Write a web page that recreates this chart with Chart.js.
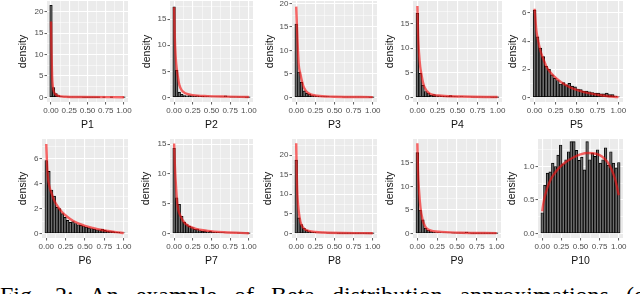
<!DOCTYPE html>
<html>
<head>
<meta charset="utf-8">
<script src="https://cdn.jsdelivr.net/npm/chart.js@4.4.1/dist/chart.umd.min.js"></script>
<style>
  html, body { margin: 0; padding: 0; background: #fff; overflow: hidden; }
  #wrap { position: relative; width: 640px; height: 294px; overflow: hidden; }
  #wrap canvas { position: absolute; }
  #caption {
    position: absolute; left: 0; top: 282px; width: 800px; white-space: nowrap;
    font-family: "Liberation Serif", "Times New Roman", serif; font-size: 24px;
    word-spacing: 11px; color: #000;
  }
</style>
</head>
<body>
<div id="wrap">
  <div id="caption">Fig. 2: An example of Beta distribution approximations (each</div>
</div>
<script>
// histogram bins (centres), shared by all panels
const binCenters = [0, 0.0345, 0.069, 0.1034, 0.1379, 0.1724, 0.2069, 0.2414, 0.2759, 0.3103,
  0.3448, 0.3793, 0.4138, 0.4483, 0.4828, 0.5172, 0.5517, 0.5862, 0.6207, 0.6552,
  0.6897, 0.7241, 0.7586, 0.7931, 0.8276, 0.8621, 0.8966, 0.931, 0.9655, 1];

const panelNames = ['P1', 'P2', 'P3', 'P4', 'P5', 'P6', 'P7', 'P8', 'P9', 'P10'];

// histogram densities
const histP1 = [21.5, 2.3, 0.9, 0.4, 0.2, 0.15, 0.1, 0.08, 0.05, 0.05, 0.04, 0.03, 0.03, 0.02, 0.02,
  0.02, 0.01, 0.01, 0.01, 0.01, 0, 0.01, 0, 0, 0.01, 0, 0, 0, 0, 0.01];
const histP2 = [17.4, 5.2, 1.0, 0.6, 0.35, 0.3, 0.35, 0.3, 0.25, 0.3, 0.2, 0.2, 0.15, 0.15, 0.1,
  0.1, 0.1, 0.08, 0.1, 0.12, 0.3, 0.1, 0.05, 0.05, 0.05, 0.03, 0.03, 0.03, 0.02, 0.02];
const histP3 = [15.6, 5.4, 3.2, 1.4, 0.85, 0.7, 0.4, 0.35, 0.25, 0.2, 0.2, 0.15, 0.15, 0.1, 0.1,
  0.1, 0.08, 0.08, 0.05, 0.05, 0.05, 0.05, 0.04, 0.04, 0.04, 0.03, 0.03, 0.03, 0.02, 0.02];
const histP4 = [17.1, 4.9, 2.5, 1.2, 0.9, 0.4, 0.6, 0.3, 0.3, 0.25, 0.2, 0.2, 0.35, 0.15, 0.15,
  0.12, 0.15, 0.1, 0.08, 0.08, 0.06, 0.05, 0.05, 0.04, 0.04, 0.03, 0.03, 0.02, 0.02, 0.02];
const histP5 = [6.2, 4.3, 3.5, 2.9, 2.2, 2.0, 1.6, 1.35, 1.2, 0.95, 1.05, 0.9, 1.0, 0.8, 0.75,
  0.6, 0.55, 0.45, 0.45, 0.4, 0.35, 0.3, 0.3, 0.25, 0.25, 0.3, 0.2, 0.2, 0.1, 0.05];
const histP6 = [5.87, 5.0, 3.5, 3.0, 2.1, 2.0, 1.6, 1.3, 1.05, 0.9, 0.95, 0.8, 0.7, 0.65, 0.6,
  0.5, 0.45, 0.4, 0.35, 0.3, 0.3, 0.35, 0.25, 0.2, 0.15, 0.15, 0.1, 0.1, 0.05, 0.05];
const histP7 = [14.3, 6.0, 4.9, 2.9, 1.9, 1.5, 1.2, 1.0, 0.7, 0.75, 0.5, 0.4, 0.45, 0.3, 0.35,
  0.25, 0.2, 0.2, 0.15, 0.15, 0.12, 0.1, 0.1, 0.08, 0.08, 0.06, 0.05, 0.05, 0.04, 0.03];
const histP8 = [18.7, 4.0, 2.3, 1.35, 0.85, 0.5, 0.35, 0.3, 0.2, 0.2, 0.15, 0.12, 0.1, 0.1, 0.08,
  0.06, 0.05, 0.05, 0.04, 0.04, 0.03, 0.03, 0.03, 0.02, 0.02, 0.02, 0.02, 0.01, 0.01, 0.01];
const histP9 = [17.2, 5.0, 2.9, 1.1, 0.7, 0.4, 0.3, 0.2, 0.2, 0.15, 0.12, 0.1, 0.1, 0.08, 0.08,
  0.06, 0.06, 0.05, 0.3, 0.05, 0.04, 0.04, 0.03, 0.03, 0.02, 0.02, 0.02, 0.02, 0.01, 0.01];
const histP10 = [0.31, 0.72, 0.9, 0.92, 1.05, 1.0, 1.17, 1.32, 1.04, 1.1, 1.22, 1.37, 1.37, 1.24, 1.09,
  1.14, 0.95, 1.37, 1.1, 1.2, 1.15, 1.25, 1.05, 1.1, 1.28, 1.02, 1.22, 1.05, 0.98, 1.06];

// fitted beta density curves, [x, density]
const curveP1 = [[0, 17.7], [0.006, 11], [0.015, 5], [0.025, 2.5], [0.04, 1.3], [0.06, 0.7], [0.1, 0.35],
  [0.2, 0.15], [0.4, 0.08], [1, 0.05]];
const curveP2 = [[0, 17.3], [0.008, 12], [0.02, 8], [0.035, 5.5], [0.05, 4.0], [0.07, 2.4], [0.1, 1.4],
  [0.15, 0.8], [0.25, 0.45], [0.45, 0.25], [0.7, 0.15], [1, 0.08]];
const curveP3 = [[0, 19.3], [0.013, 13.7], [0.03, 7.5], [0.056, 4.9], [0.1, 2.1], [0.16, 0.9], [0.27, 0.35],
  [0.49, 0.15], [1, 0.07]];
const curveP4 = [[0, 18.6], [0.008, 13], [0.02, 9], [0.035, 6.2], [0.05, 4.7], [0.07, 3.0], [0.09, 2.0],
  [0.15, 0.8], [0.3, 0.34], [0.55, 0.17], [1, 0.07]];
const curveP5 = [[0, 6.3], [0.02, 4.8], [0.04, 4.1], [0.07, 3.3], [0.1, 2.8], [0.14, 2.2], [0.2, 1.7],
  [0.27, 1.3], [0.35, 0.95], [0.43, 0.7], [0.53, 0.48], [0.63, 0.32], [0.74, 0.2], [0.84, 0.12],
  [0.92, 0.06], [1, 0.02]];
const curveP6 = [[0, 7.2], [0.01, 5.6], [0.02, 4.6], [0.04, 3.8], [0.07, 3.2], [0.1, 2.7], [0.15, 2.15],
  [0.2, 1.75], [0.27, 1.35], [0.35, 1.0], [0.43, 0.78], [0.5, 0.62], [0.6, 0.45], [0.7, 0.3],
  [0.8, 0.2], [0.9, 0.11], [1, 0.04]];
const curveP7 = [[0, 15.1], [0.01, 11.5], [0.02, 9], [0.043, 5], [0.086, 2.9], [0.15, 1.65], [0.28, 0.83],
  [0.45, 0.45], [0.67, 0.22], [1, 0.05]];
const curveP8 = [[0, 23], [0.006, 16], [0.015, 10], [0.034, 5.5], [0.055, 3], [0.077, 1.9], [0.11, 1.1],
  [0.16, 0.67], [0.25, 0.38], [0.36, 0.25], [0.6, 0.13], [1, 0.08]];
const curveP9 = [[0, 19.2], [0.008, 13.5], [0.02, 9.4], [0.04, 5.4], [0.065, 3.0], [0.095, 1.6], [0.13, 0.9],
  [0.2, 0.5], [0.3, 0.35], [0.55, 0.17], [1, 0.07]];
const curveP10 = [[0, 0.33], [0.02, 0.48], [0.05, 0.62], [0.1, 0.78], [0.15, 0.88], [0.22, 0.98], [0.3, 1.06],
  [0.4, 1.13], [0.5, 1.18], [0.6, 1.2], [0.7, 1.19], [0.78, 1.15], [0.85, 1.07], [0.9, 0.97],
  [0.95, 0.82], [1, 0.57]];

// ticks
const xTicks = [0, 0.25, 0.5, 0.75, 1];
const xTickLabels = ['0.00', '0.25', '0.50', '0.75', '1.00'];
const yTicksA = [0, 5, 10, 15, 20];
const yTicksB = [0, 5, 10, 15];
const yTicksC = [0, 2, 4, 6];
const yTicksD = [0, 0.5, 1];
const yTickLabelsD = ['0.0', '0.5', '1.0'];
const yMaxes = [22.5, 18.5, 20.5, 19.6, 6.85, 7.6, 15.85, 24.1, 20.1, 1.41];

const hists = [histP1, histP2, histP3, histP4, histP5, histP6, histP7, histP8, histP9, histP10];
const curves = [curveP1, curveP2, curveP3, curveP4, curveP5, curveP6, curveP7, curveP8, curveP9, curveP10];
const yTicksFor = [yTicksA, yTicksB, yTicksA, yTicksB, yTicksC, yTicksC, yTicksB, yTicksA, yTicksB, yTicksD];

// panel placement (plot area in page pixels, x centre of the y title)
const layout = [
  {l: 47, r: 128, t: 1, b: 102, tx: 23},
  {l: 170, r: 253, t: 1, b: 102, tx: 147},
  {l: 292, r: 377, t: 1, b: 102, tx: 270},
  {l: 413, r: 502, t: 1, b: 102, tx: 390},
  {l: 530, r: 623, t: 1, b: 102, tx: 513},
  {l: 42, r: 128, t: 139, b: 238, tx: 23},
  {l: 170, r: 253, t: 139, b: 238, tx: 146},
  {l: 292, r: 377, t: 139, b: 238, tx: 268},
  {l: 413, r: 501, t: 139, b: 238, tx: 390},
  {l: 538, r: 623, t: 139, b: 238, tx: 512}
];

Chart.defaults.font.family = '"Liberation Sans", Arial, sans-serif';

const panelBg = {
  id: 'panelBg',
  beforeDraw(chart) {
    const a = chart.chartArea;
    const c = chart.ctx;
    c.save();
    c.fillStyle = '#ebebeb';
    c.fillRect(a.left, a.top, a.right - a.left, a.bottom - a.top);
    c.restore();
  }
};

const wrap = document.getElementById('wrap');
const xGrid = [0, 0.125, 0.25, 0.375, 0.5, 0.625, 0.75, 0.875, 1];

function makePanel(i) {
  const lay = layout[i];
  const padTop = 6, padRight = 12, xH = 31;
  const left = lay.tx - 6, top = lay.t - padTop;
  const w = lay.r + padRight - left, h = lay.b + xH - top;
  const yW = lay.l - left;

  const yMax = yMaxes[i];
  const yMin = -yMax * 0.05 / 1.05;
  const yTicks = yTicksFor[i];
  const step = yTicks[1] - yTicks[0];
  const yGrid = [];
  yTicks.forEach(v => { yGrid.push(v); if (v + step / 2 < yMax) yGrid.push(v + step / 2); });

  const canvas = document.createElement('canvas');
  canvas.width = w; canvas.height = h;
  canvas.style.left = left + 'px'; canvas.style.top = top + 'px';
  canvas.style.width = w + 'px'; canvas.style.height = h + 'px';
  wrap.appendChild(canvas);

  const isMajorY = v => yTicks.indexOf(v) >= 0;
  const isMajorX = v => xTicks.indexOf(v) >= 0;

  new Chart(canvas, {
    type: 'bar',
    data: {
      datasets: [
        {
          type: 'line',
          data: curves[i].map(p => ({x: p[0], y: p[1]})),
          borderColor: 'rgba(245, 20, 20, 0.65)',
          borderWidth: 2.4,
          pointRadius: 0,
          cubicInterpolationMode: 'monotone',
          order: 0
        },
        {
          type: 'bar',
          data: binCenters.map((x, k) => ({x: x, y: hists[i][k]})),
          backgroundColor: '#6e6e6e',
          borderColor: '#000',
          borderWidth: 0.9,
          borderSkipped: false,
          barPercentage: 1,
          categoryPercentage: 1,
          order: 1
        }
      ]
    },
    options: {
      responsive: false,
      animation: false,
      layout: {padding: {top: padTop, right: padRight, left: 0, bottom: 0}},
      plugins: {legend: {display: false}, tooltip: {enabled: false}},
      scales: {
        x: {
          type: 'linear', min: -0.055, max: 1.055, offset: false,
          afterFit(s) { s.height = xH; },
          afterBuildTicks(s) { s.ticks = xGrid.map(v => ({value: v})); },
          ticks: {
            autoSkip: false, maxRotation: 0, padding: 1, color: '#4d4d4d', font: {size: 8},
            callback(v) { const k = xTicks.indexOf(v); return k >= 0 ? xTickLabels[k] : ''; }
          },
          grid: {
            offset: false, color: '#fff',
            lineWidth: ctx => (ctx.tick && isMajorX(ctx.tick.value)) ? 1.1 : 0.5,
            tickLength: 2.5, tickWidth: 0.8,
            tickColor: ctx => (ctx.tick && isMajorX(ctx.tick.value)) ? '#333' : 'rgba(0,0,0,0)'
          },
          border: {display: false},
          title: {display: true, text: panelNames[i], color: '#111', font: {size: 10.5}, padding: {top: 0, bottom: 2}}
        },
        y: {
          min: yMin, max: yMax,
          afterFit(s) { s.width = yW; },
          afterBuildTicks(s) { s.ticks = yGrid.map(v => ({value: v})); },
          ticks: {
            autoSkip: false, padding: 1, color: '#4d4d4d', font: {size: 8},
            callback(v) {
              const k = yTicks.indexOf(v);
              if (k < 0) return '';
              return yTicks === yTicksD ? yTickLabelsD[k] : String(v);
            }
          },
          grid: {
            color: '#fff',
            lineWidth: ctx => (ctx.tick && isMajorY(ctx.tick.value)) ? 1.1 : 0.5,
            tickLength: 2.5, tickWidth: 0.8,
            tickColor: ctx => (ctx.tick && isMajorY(ctx.tick.value)) ? '#333' : 'rgba(0,0,0,0)'
          },
          border: {display: false},
          title: {display: true, text: 'density', color: '#111', font: {size: 10.5}, padding: {top: 0, bottom: 0}}
        }
      }
    },
    plugins: [panelBg]
  });
}

for (let i = 0; i < panelNames.length; i++) makePanel(i);
</script>
</body>
</html>
